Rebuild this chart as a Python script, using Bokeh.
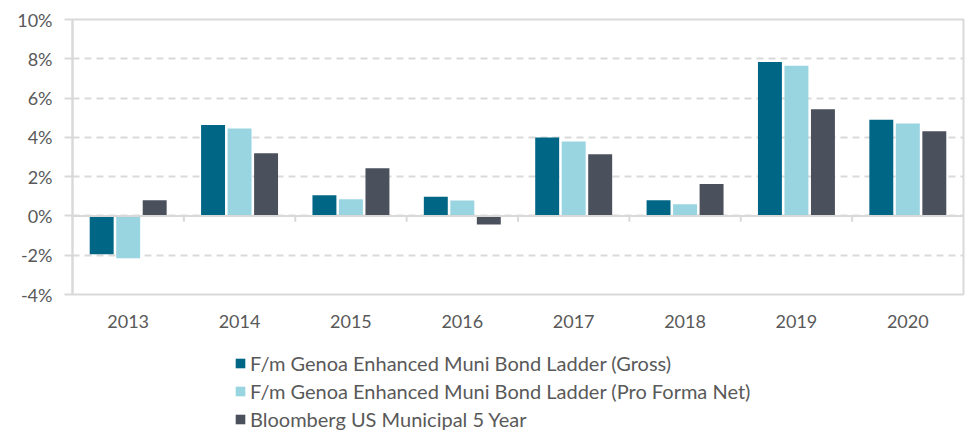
from bokeh.plotting import figure
from bokeh.layouts import column
from bokeh.models import (Range1d, FixedTicker, PrintfTickFormatter, Span, Legend, LegendItem,
                          ColumnDataSource)
from bokeh.embed import file_html
from bokeh.resources import INLINE

years = ["2013", "2014", "2015", "2016", "2017", "2018", "2019", "2020"]
gross = [-1.95, 4.63, 1.05, 0.98, 3.99, 0.80, 7.84, 4.90]
pro_forma = [-2.15, 4.45, 0.85, 0.78, 3.79, 0.60, 7.64, 4.70]
bloomberg = [0.80, 3.19, 2.43, -0.44, 3.14, 1.63, 5.43, 4.31]
series_names = ["F/m Genoa Enhanced Muni Bond Ladder (Gross)",
                "F/m Genoa Enhanced Muni Bond Ladder (Pro Forma Net)",
                "Bloomberg US Municipal 5 Year"]
y_ticks = [-4, -2, 0, 2, 4, 6, 8, 10]

colors = ["#006685", "#99D4E1", "#4A505C"]
FONT = "Lato"
TXT = "#595959"
GRID = "#D9D9D9"

n = len(years)
p = figure(frame_width=891, frame_height=275, output_backend="svg", toolbar_location=None,
           x_range=Range1d(0, n), y_range=Range1d(y_ticks[0], y_ticks[-1]),
           min_border_left=72, min_border_top=19, min_border_right=2, min_border_bottom=45)
p.outline_line_color = GRID
p.outline_line_width = 2
p.background_fill_color = "white"
p.border_fill_color = "white"

pitch = 0.238
bw = 0.215
sources = []
for k, (vals, c) in enumerate(zip([gross, pro_forma, bloomberg], colors)):
    xs = [i + 0.5 + (k - 1) * pitch for i in range(n)]
    src = ColumnDataSource(dict(x=xs, top=vals))
    sources.append(src)
    p.vbar(x="x", top="top", bottom=0, width=bw, source=src, fill_color=c, line_color=None)

# zero line and category boundary ticks
p.add_layout(Span(location=0, dimension="width", line_color=GRID, line_width=2))
bx = list(range(1, n))
p.segment(x0=bx, x1=bx, y0=[0] * len(bx), y1=[-0.3] * len(bx), line_color=GRID, line_width=2)

# y axis
p.yaxis.ticker = FixedTicker(ticks=y_ticks)
p.yaxis.formatter = PrintfTickFormatter(format="%d%%")
p.yaxis.axis_line_color = GRID
p.yaxis.axis_line_width = 2
p.yaxis.major_tick_line_color = GRID
p.yaxis.major_tick_line_width = 2
p.yaxis.major_tick_out = 8
p.yaxis.major_tick_in = 0
p.yaxis.minor_tick_line_color = None
p.yaxis.major_label_standoff = 12
p.yaxis.major_label_text_font = FONT
p.yaxis.major_label_text_font_size = "18px"
p.yaxis.major_label_text_color = TXT

# x axis
p.xaxis.ticker = FixedTicker(ticks=[i + 0.5 for i in range(n)])
p.xaxis.major_label_overrides = {i + 0.5: y for i, y in enumerate(years)}
p.xaxis.axis_line_color = None
p.xaxis.major_tick_line_color = None
p.xaxis.minor_tick_line_color = None
p.xaxis.major_label_standoff = 14
p.xaxis.major_label_text_font = FONT
p.xaxis.major_label_text_font_size = "18px"
p.xaxis.major_label_text_color = TXT

p.xgrid.grid_line_color = None
p.ygrid.ticker = FixedTicker(ticks=y_ticks)
p.ygrid.grid_line_color = GRID
p.ygrid.grid_line_width = 2
p.ygrid.grid_line_dash = "7 5"

# legend figure (bars kept out of its visible range; only the legend shows)
lg = figure(width=965, height=92, output_backend="svg", toolbar_location=None,
            x_range=Range1d(0, n), y_range=Range1d(100, 101),
            x_axis_location=None, y_axis_location=None,
            min_border=0, min_border_left=0, min_border_right=0, min_border_top=0, min_border_bottom=0)
lg.grid.visible = False
lg.outline_line_color = None
lg.background_fill_color = "white"
lg.border_fill_color = "white"
lrs = [lg.vbar(x="x", top="top", bottom=0, width=bw, source=s, fill_color=c, line_color=None)
       for s, c in zip(sources, colors)]

legend = Legend(items=[LegendItem(label=nm, renderers=[r]) for nm, r in zip(series_names, lrs)],
                orientation="vertical", location=(162, 0))
legend.label_text_font = FONT
legend.label_text_font_size = "20px"
legend.label_text_color = TXT
legend.glyph_width = 12
legend.glyph_height = 12
legend.label_standoff = 4
legend.label_height = 25
legend.spacing = 3
legend.padding = 2
legend.margin = 0
legend.border_line_color = None
legend.background_fill_alpha = 0
lg.add_layout(legend, "center")

open("out.html", "w").write(file_html(column(p, lg, spacing=0), INLINE))
